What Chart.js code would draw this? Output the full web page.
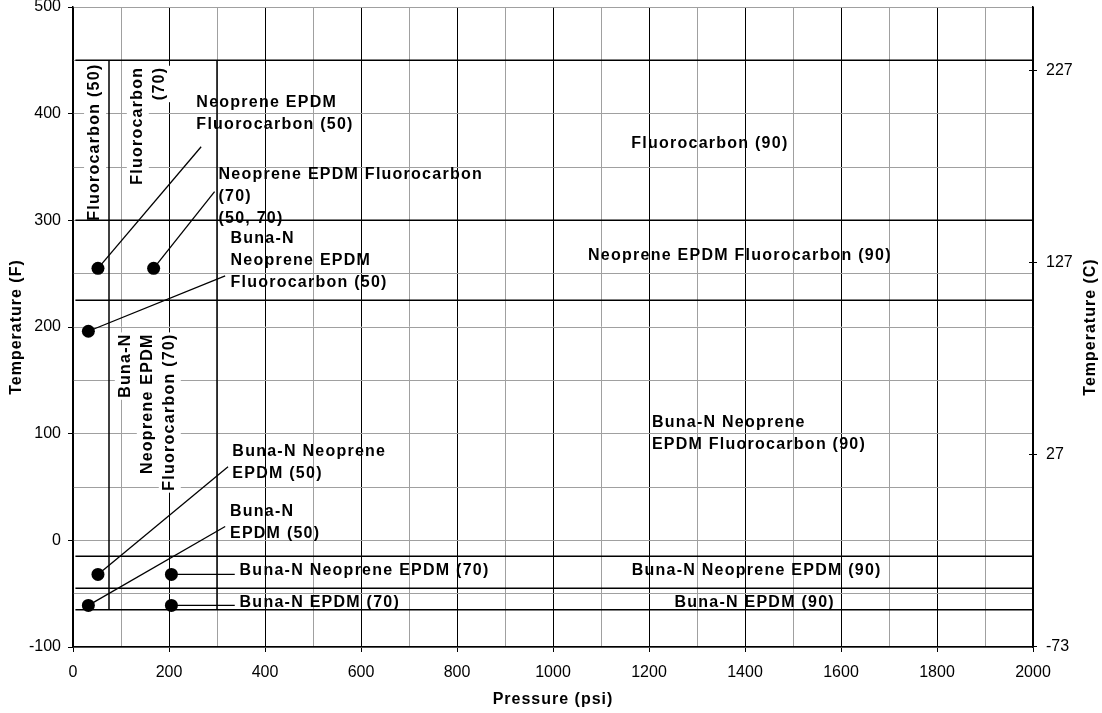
<!DOCTYPE html>
<html>
<head>
<meta charset="utf-8">
<script src="https://cdn.jsdelivr.net/npm/chart.js@4/dist/chart.umd.min.js"></script>
<style>
  body { margin: 0; background: #fff; }
  canvas { display: block; }
</style>
</head>
<body>
<canvas id="grafico" width="1102" height="713"></canvas>
<script>
// Faixas de temperatura (F) e pressão (psi)
const tempMinF = -100, tempMaxF = 500;
const pressaoMin = 0, pressaoMax = 2000;

// Linhas que dividem as regiões
const limitesTemp = [450, 300, 225, -15, -45, -65];
const limitesTempPsi = [5, 2000];
const limitesPsi = [75, 300];
const limitesPsiTemp = [-65, 450];

// Pontos e as linhas-guia até os textos
const pontosPsi = [52, 168, 32, 52, 205, 32, 205];
const pontosTemp = [255, 255, 196, -32, -32, -61, -61];
const guiaPsi = [267, 295, 317, 323, 337, 317, 337];
const guiaTemp = [369, 327, 248, 69, -32, 13, -61];

// Textos horizontais
const textosH = [
    ['Neoprene EPDM', 'Fluorocarbon (50)'],
    ['Neoprene EPDM Fluorocarbon', '(70)', '(50, 70)'],
    ['Buna-N', 'Neoprene EPDM', 'Fluorocarbon (50)'],
    ['Buna-N Neoprene', 'EPDM (50)'],
    ['Buna-N', 'EPDM (50)'],
    ['Buna-N Neoprene EPDM (70)'],
    ['Buna-N EPDM (70)'],
    ['Fluorocarbon (90)'],
    ['Neoprene EPDM Fluorocarbon (90)'],
    ['Buna-N Neoprene', 'EPDM Fluorocarbon (90)'],
    ['Buna-N Neoprene EPDM (90)'],
    ['Buna-N EPDM (90)']
];
const textosHPsi = [257, 303, 328, 332, 327, 347, 347, 1163, 1073, 1206, 1164, 1253];
const textosHTemp = [410, 343, 283, 83, 27, -28, -58, 372, 267, 110, -28, -58];

// Textos verticais (com fundo branco)
const textosV = [
    ['Fluorocarbon (50)'],
    ['Fluorocarbon', '(70)'],
    ['Buna-N', 'Neoprene EPDM', 'Fluorocarbon (70)']
];
const textosVPsi = [46, 135, 110];
const textosVTemp = [447, 444, 194];

// Eixo secundário em Celsius
const ticksCelsius = [-73, 27, 127, 227];
const paraCelsius = f => (f - 32) * 5 / 9;

const FONTE = "'Liberation Sans', Arial, sans-serif";
const CINZA = '#a0a0a0';
const ALTURA_LINHA = 22;

// Monta os datasets a partir das listas
const datasets = [];
limitesTemp.forEach(t => datasets.push({
    data: limitesTempPsi.map(p => ({ x: p, y: t })),
    borderColor: '#000', borderWidth: 1.5, pointRadius: 0, showLine: true
}));
limitesPsi.forEach(p => datasets.push({
    data: limitesPsiTemp.map(t => ({ x: p, y: t })),
    borderColor: '#000', borderWidth: 1.5, pointRadius: 0, showLine: true
}));
pontosPsi.forEach((p, i) => datasets.push({
    data: [{ x: p, y: pontosTemp[i] }, { x: guiaPsi[i], y: guiaTemp[i] }],
    borderColor: '#000', borderWidth: 1.3, pointRadius: 0, showLine: true
}));
datasets.push({
    data: pontosPsi.map((p, i) => ({ x: p, y: pontosTemp[i] })),
    pointRadius: 6.5, pointBackgroundColor: '#000', pointBorderWidth: 0, showLine: false
});

// Plugin: textos sobre o gráfico e títulos dos eixos
const pluginTextos = {
    id: 'textos',
    beforeDatasetsDraw(chart) {
        const { ctx, scales: { x, y } } = chart;
        ctx.save();
        ctx.font = `bold 16px ${FONTE}`;
        ctx.letterSpacing = '1.25px';

        // verticais: primeiro as caixas brancas, depois o texto
        const itens = [];
        textosV.forEach((linhas, i) => {
            const px = x.getPixelForValue(textosVPsi[i]);
            const py = y.getPixelForValue(textosVTemp[i]);
            linhas.forEach((txt, j) => itens.push({ txt, px: px + j * ALTURA_LINHA, py, w: ctx.measureText(txt).width }));
        });
        itens.forEach(it => {
            ctx.save();
            ctx.translate(it.px, it.py);
            ctx.rotate(-Math.PI / 2);
            ctx.fillStyle = '#fff';
            ctx.fillRect(-it.w - 2, -ALTURA_LINHA / 2, it.w + 3, ALTURA_LINHA);
            ctx.restore();
        });
        itens.forEach(it => {
            ctx.save();
            ctx.translate(it.px, it.py);
            ctx.rotate(-Math.PI / 2);
            ctx.fillStyle = '#000';
            ctx.textAlign = 'right';
            ctx.textBaseline = 'middle';
            ctx.fillText(it.txt, 0, 0);
            ctx.restore();
        });

        // horizontais
        ctx.fillStyle = '#000';
        ctx.textAlign = 'left';
        ctx.textBaseline = 'middle';
        textosH.forEach((linhas, i) => {
            const px = x.getPixelForValue(textosHPsi[i]);
            const py = y.getPixelForValue(textosHTemp[i]);
            linhas.forEach((txt, j) => ctx.fillText(txt, px, py + j * ALTURA_LINHA));
        });
        ctx.restore();
    },
    afterDraw(chart) {
        const { ctx, chartArea, scales: { y2 } } = chart;
        ctx.save();
        // metade interna dos ticks do eixo Celsius
        ctx.strokeStyle = '#000';
        ctx.lineWidth = 1;
        ticksCelsius.forEach(c => {
            const py = Math.round(y2.getPixelForValue(c)) + 0.5;
            ctx.beginPath();
            ctx.moveTo(chartArea.right - 4, py);
            ctx.lineTo(chartArea.right, py);
            ctx.stroke();
        });

        ctx.font = `bold 16px ${FONTE}`;
        ctx.letterSpacing = '1px';
        ctx.fillStyle = '#000';
        ctx.textAlign = 'center';
        ctx.textBaseline = 'middle';
        const meioY = (chartArea.top + chartArea.bottom) / 2;
        ctx.fillText('Pressure (psi)', (chartArea.left + chartArea.right) / 2, 700);
        [[17, 'Temperature (F)'], [1091, 'Temperature (C)']].forEach(([px, txt]) => {
            ctx.save();
            ctx.translate(px, meioY);
            ctx.rotate(-Math.PI / 2);
            ctx.fillText(txt, 0, 0);
            ctx.restore();
        });
        ctx.restore();
    }
};

const fonteTicks = { family: FONTE, size: 16 };

new Chart(document.getElementById('grafico'), {
    type: 'scatter',
    data: { datasets },
    options: {
        responsive: false,
        animation: false,
        devicePixelRatio: 1,
        layout: { padding: { top: 7, left: 0, right: 0, bottom: 0 } },
        plugins: { legend: { display: false }, tooltip: { enabled: false } },
        scales: {
            x: {
                type: 'linear', min: pressaoMin, max: pressaoMax,
                ticks: {
                    stepSize: 100, autoSkip: false, maxRotation: 0, padding: 11,
                    color: '#000', font: fonteTicks,
                    callback: v => (v % 200 === 0 ? v : '')
                },
                grid: {
                    color: c => (c.tick && c.tick.value % 200 === 0 ? '#000' : CINZA),
                    tickColor: c => (c.tick && c.tick.value % 200 === 0 ? '#000' : 'rgba(0,0,0,0)'),
                    tickLength: 5, lineWidth: 1
                },
                border: { color: '#000', width: 1.5 },
                afterFit: s => { s.height = 66; s.paddingLeft = 0; s.paddingRight = 0; }
            },
            y: {
                type: 'linear', position: 'left', min: tempMinF, max: tempMaxF,
                ticks: {
                    stepSize: 50, autoSkip: false, padding: 7,
                    color: '#000', font: fonteTicks,
                    callback: v => (v % 100 === 0 ? v : '')
                },
                grid: {
                    color: CINZA,
                    tickColor: c => (c.tick && c.tick.value % 100 === 0 ? '#000' : 'rgba(0,0,0,0)'),
                    tickLength: 5, lineWidth: 1
                },
                border: { color: '#000', width: 1.5 },
                afterFit: s => { s.width = 73; s.paddingTop = 0; s.paddingBottom = 0; }
            },
            y2: {
                type: 'linear', position: 'right',
                min: paraCelsius(tempMinF), max: paraCelsius(tempMaxF),
                afterBuildTicks: s => { s.ticks = ticksCelsius.map(v => ({ value: v })); },
                ticks: { padding: 9, color: '#000', font: fonteTicks, autoSkip: false },
                grid: { drawOnChartArea: false, tickLength: 4, tickColor: '#000' },
                border: { color: '#000', width: 1.5 },
                afterFit: s => { s.width = 69; s.paddingTop = 0; s.paddingBottom = 0; }
            }
        }
    },
    plugins: [pluginTextos]
});
</script>
</body>
</html>
